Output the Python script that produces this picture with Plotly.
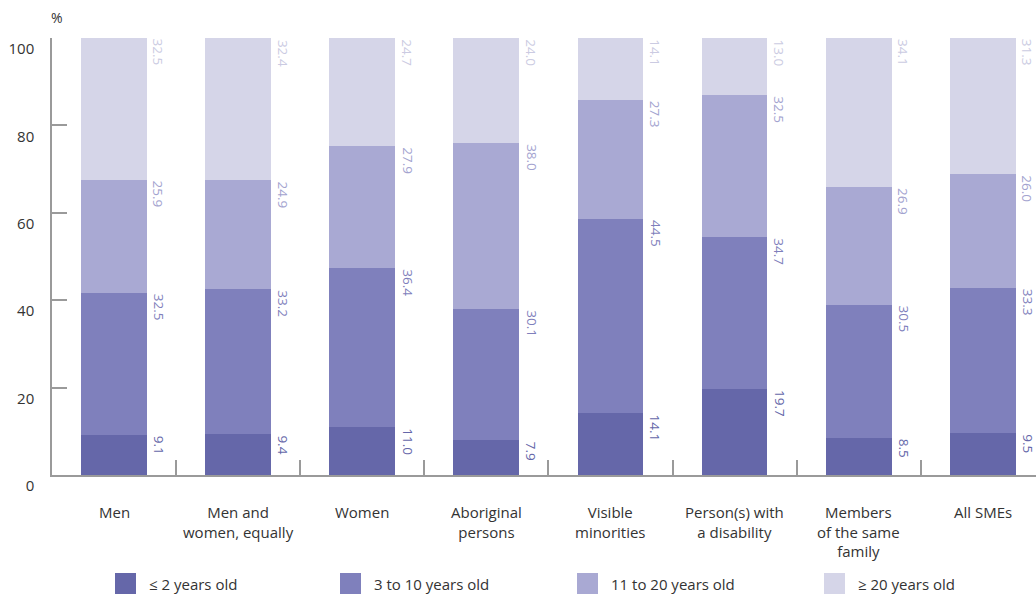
import plotly.graph_objects as go

# Age of SMEs by ownership group (% of businesses)
categories = [
    "Men",
    "Men and<br>women, equally",
    "Women",
    "Aboriginal<br>persons",
    "Visible<br>minorities",
    "Person(s) with<br>a disability",
    "Members<br>of the same<br>family",
    "All SMEs",
]
series_names = ["≤ 2 years old", "3 to 10 years old", "11 to 20 years old", "≥ 20 years old"]
age_le2 = [9.1, 9.4, 11.0, 7.9, 14.1, 19.7, 8.5, 9.5]
age_3_10 = [32.5, 33.2, 36.4, 30.1, 44.5, 34.7, 30.5, 33.3]
age_11_20 = [25.9, 24.9, 27.9, 38.0, 27.3, 32.5, 26.9, 26.0]
age_ge20 = [32.5, 32.4, 24.7, 24.0, 14.1, 13.0, 34.1, 31.3]
y_ticks = [0, 20, 40, 60, 80, 100]

series_values = [age_le2, age_3_10, age_11_20, age_ge20]
colors = ["#6567a9", "#7f80bc", "#a9a9d3", "#d5d5e8"]
label_colors = ["#6567a9", "#7f7fbc", "#a3a3cf", "#cbcbe2"]

FONT = "Open Sans"
BAR_WIDTH = 0.53
W, H = 1036, 594
M_L, M_R, M_T, M_B = 52, 0, 38, 119
PLOT_W = W - M_L - M_R
PLOT_H = H - M_T - M_B
SLOT_PX = 124.1

fig = go.Figure()
for name, vals, col in zip(series_names, series_values, colors):
    fig.add_trace(go.Bar(
        x=list(range(len(categories))), y=vals, name=name,
        marker=dict(color=col, line=dict(width=0)),
        width=BAR_WIDTH, showlegend=False,
    ))

# value labels, rotated, placed to the right of each segment's top
annotations = []
for j in range(len(categories)):
    cum = 0.0
    for vals, col in zip(series_values, label_colors):
        cum += vals[j]
        annotations.append(dict(
            x=j + BAR_WIDTH / 2, y=min(cum, 100), xref="x", yref="y",
            text=f"{vals[j]:.1f}", showarrow=False, textangle=90,
            xanchor="left", yanchor="top", xshift=1, yshift=1,
            font=dict(family=FONT, size=13.5, color=col),
        ))

annotations.append(dict(
    x=0, y=1, xref="paper", yref="paper", text="%", showarrow=False,
    xanchor="center", yanchor="middle", xshift=5, yshift=21,
    font=dict(family=FONT, size=14, color="#333333"),
))


def px_x(px):
    return (px - M_L) / PLOT_W


def px_y(py):
    return (H - M_B - py) / PLOT_H


# legend drawn as squares with text
shapes = []
legend_left = [115, 340, 577, 824]
for name, col, lx in zip(series_names, colors, legend_left):
    shapes.append(dict(
        type="rect", xref="paper", yref="paper",
        x0=px_x(lx), x1=px_x(lx + 21), y0=px_y(573), y1=px_y(596),
        fillcolor=col, line=dict(width=0),
    ))
    annotations.append(dict(
        x=px_x(lx + 32), y=px_y(584), xref="paper", yref="paper",
        text=name, showarrow=False, xanchor="left", yanchor="middle",
        font=dict(family=FONT, size=15, color="#333333"),
    ))

# category names under each bar
for j, cat in enumerate(categories):
    annotations.append(dict(
        x=j, y=0, xref="x", yref="y", text=cat, showarrow=False,
        xanchor="center", yanchor="top", yshift=-25,
        font=dict(family=FONT, size=15, color="#333333"),
    ))

fig.update_layout(
    width=W, height=H,
    margin=dict(l=M_L, r=M_R, t=M_T, b=M_B, pad=0),
    paper_bgcolor="white", plot_bgcolor="white",
    barmode="stack", bargap=0,
    showlegend=False,
    annotations=annotations, shapes=shapes,
    font=dict(family=FONT, color="#333333"),
)
fig.update_xaxes(
    range=[-0.5, -0.5 + PLOT_W / SLOT_PX],
    tickmode="array",
    tickvals=[i + 0.5 for i in range(len(categories) - 1)],
    ticktext=[""] * (len(categories) - 1),
    ticks="inside", ticklen=15, tickwidth=1.5, tickcolor="#9a9a9a",
    showline=True, linecolor="#9a9a9a", linewidth=1.5,
    showgrid=False, zeroline=False, fixedrange=True,
)
fig.update_yaxes(
    range=[0, 100], tickmode="array", tickvals=y_ticks,
    ticks="inside", ticklen=15, tickwidth=1.5, tickcolor="#9a9a9a",
    showline=True, linecolor="#9a9a9a", linewidth=1.5,
    showgrid=False, zeroline=False,
    tickfont=dict(family=FONT, size=15, color="#333333"),
    ticklabelstandoff=13, ticklabelshift=11,
)

fig.write_html("out.html")
